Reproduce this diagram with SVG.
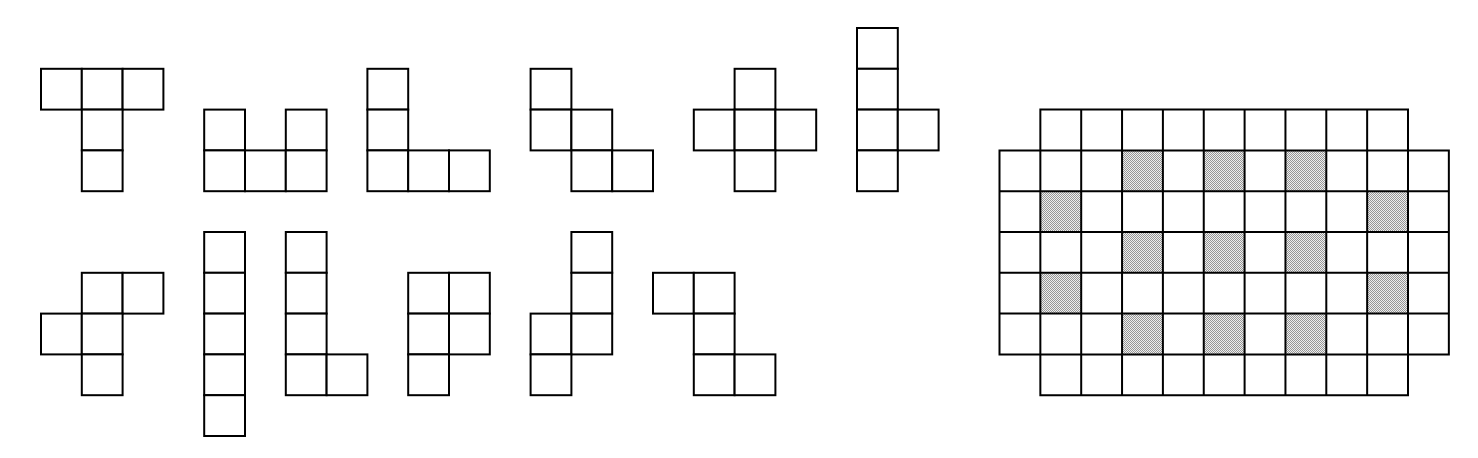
<svg xmlns="http://www.w3.org/2000/svg" width="1478" height="458" viewBox="0 0 1478 458">
<defs>
<pattern id="chk" width="2" height="2" patternUnits="userSpaceOnUse">
<rect width="2" height="2" fill="#eeeeee"/>
<rect width="1" height="1" fill="#969696"/>
<rect x="1" y="1" width="1" height="1" fill="#969696"/>
</pattern>
<rect id="c" width="40.8" height="40.8"/>
</defs>
<style>
.p use{fill:#fff;stroke:#000;stroke-width:2}
.s{fill:url(#chk);stroke:none}
.g{fill:none;stroke:#000;stroke-width:2;stroke-linecap:square}
</style>
<rect width="1478" height="458" fill="#fff"/>
<g id="piece-T" class="p">
<use href="#c" x="41" y="68.8"/><use href="#c" x="81.8" y="68.8"/><use href="#c" x="122.6" y="68.8"/><use href="#c" x="81.8" y="109.6"/><use href="#c" x="81.8" y="150.4"/>
</g>
<g id="piece-U" class="p">
<use href="#c" x="204.2" y="109.6"/><use href="#c" x="285.8" y="109.6"/><use href="#c" x="204.2" y="150.4"/><use href="#c" x="245" y="150.4"/><use href="#c" x="285.8" y="150.4"/>
</g>
<g id="piece-V" class="p">
<use href="#c" x="367.4" y="68.8"/><use href="#c" x="367.4" y="109.6"/><use href="#c" x="367.4" y="150.4"/><use href="#c" x="408.2" y="150.4"/><use href="#c" x="449" y="150.4"/>
</g>
<g id="piece-W" class="p">
<use href="#c" x="530.6" y="68.8"/><use href="#c" x="530.6" y="109.6"/><use href="#c" x="571.4" y="109.6"/><use href="#c" x="571.4" y="150.4"/><use href="#c" x="612.2" y="150.4"/>
</g>
<g id="piece-X" class="p">
<use href="#c" x="734.6" y="68.8"/><use href="#c" x="693.8" y="109.6"/><use href="#c" x="734.6" y="109.6"/><use href="#c" x="775.4" y="109.6"/><use href="#c" x="734.6" y="150.4"/>
</g>
<g id="piece-Y" class="p">
<use href="#c" x="857" y="28"/><use href="#c" x="857" y="68.8"/><use href="#c" x="857" y="109.6"/><use href="#c" x="897.8" y="109.6"/><use href="#c" x="857" y="150.4"/>
</g>
<g id="piece-F" class="p">
<use href="#c" x="81.8" y="272.8"/><use href="#c" x="122.6" y="272.8"/><use href="#c" x="41" y="313.6"/><use href="#c" x="81.8" y="313.6"/><use href="#c" x="81.8" y="354.4"/>
</g>
<g id="piece-I" class="p">
<use href="#c" x="204.2" y="232"/><use href="#c" x="204.2" y="272.8"/><use href="#c" x="204.2" y="313.6"/><use href="#c" x="204.2" y="354.4"/><use href="#c" x="204.2" y="395.2"/>
</g>
<g id="piece-L" class="p">
<use href="#c" x="285.8" y="232"/><use href="#c" x="285.8" y="272.8"/><use href="#c" x="285.8" y="313.6"/><use href="#c" x="285.8" y="354.4"/><use href="#c" x="326.6" y="354.4"/>
</g>
<g id="piece-P" class="p">
<use href="#c" x="408.2" y="272.8"/><use href="#c" x="449" y="272.8"/><use href="#c" x="408.2" y="313.6"/><use href="#c" x="449" y="313.6"/><use href="#c" x="408.2" y="354.4"/>
</g>
<g id="piece-N" class="p">
<use href="#c" x="571.4" y="232"/><use href="#c" x="571.4" y="272.8"/><use href="#c" x="530.6" y="313.6"/><use href="#c" x="571.4" y="313.6"/><use href="#c" x="530.6" y="354.4"/>
</g>
<g id="piece-Z" class="p">
<use href="#c" x="653" y="272.8"/><use href="#c" x="693.8" y="272.8"/><use href="#c" x="693.8" y="313.6"/><use href="#c" x="693.8" y="354.4"/><use href="#c" x="734.6" y="354.4"/>
</g>
<g id="board">
<g class="s">
<rect x="1122.05" y="150.4" width="40.85" height="40.8"/>
<rect x="1203.75" y="150.4" width="40.85" height="40.8"/>
<rect x="1285.45" y="150.4" width="40.85" height="40.8"/>
<rect x="1040.35" y="191.2" width="40.85" height="40.8"/>
<rect x="1367.15" y="191.2" width="40.85" height="40.8"/>
<rect x="1122.05" y="232" width="40.85" height="40.8"/>
<rect x="1203.75" y="232" width="40.85" height="40.8"/>
<rect x="1285.45" y="232" width="40.85" height="40.8"/>
<rect x="1040.35" y="272.8" width="40.85" height="40.8"/>
<rect x="1367.15" y="272.8" width="40.85" height="40.8"/>
<rect x="1122.05" y="313.6" width="40.85" height="40.8"/>
<rect x="1203.75" y="313.6" width="40.85" height="40.8"/>
<rect x="1285.45" y="313.6" width="40.85" height="40.8"/>
</g>
<path class="g" d="M1040.35 109.6H1408 M999.5 150.4H1448.85 M999.5 191.2H1448.85 M999.5 232H1448.85 M999.5 272.8H1448.85 M999.5 313.6H1448.85 M999.5 354.4H1448.85 M1040.35 395.2H1408
M999.5 150.4V354.4 M1448.85 150.4V354.4
M1040.35 109.6V395.2 M1081.2 109.6V395.2 M1122.05 109.6V395.2 M1162.9 109.6V395.2 M1203.75 109.6V395.2 M1244.6 109.6V395.2 M1285.45 109.6V395.2 M1326.3 109.6V395.2 M1367.15 109.6V395.2 M1408 109.6V395.2"/>
</g>
</svg>
